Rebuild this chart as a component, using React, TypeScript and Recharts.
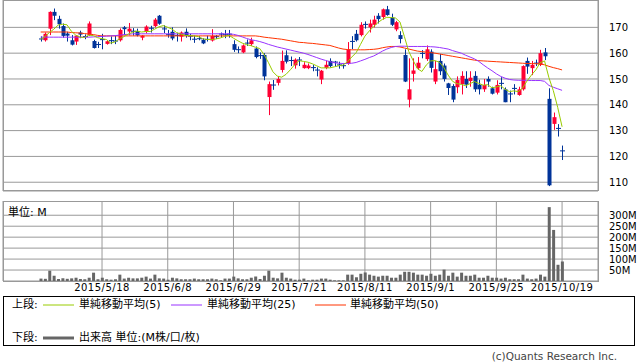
import { ComposedChart, BarChart, Bar, Line, XAxis, YAxis, CartesianGrid } from 'recharts';

// trading-day index of the first candle (0 = 2015/5/18)
const FIRST = -14;

const tickIdx = [0, 15, 30, 45, 60, 75, 90, 105];
const tickLabels = ['2015/5/18', '2015/6/8', '2015/6/29', '2015/7/21', '2015/8/11', '2015/9/1', '2015/9/25', '2015/10/19'];
const priceTicks = [110, 120, 130, 140, 150, 160, 170];
const volTicks = [50, 100, 150, 200, 250, 300];

const opens = [
  165.7, 165, 169.5, 176, 173.3, 170.5, 167.6, 165, 164.5, 168,
  166.6, 167, 164.7, 163.5, 165.5, 163.6, 165, 164.9, 165, 170,
  168.4, 168.7, 168.5, 166, 168.3, 169.8, 170.5, 174.5, 169.5, 167.3,
  168.3, 167, 166.4, 168.3, 166.7, 165.5, 165.7, 165.2, 165.5, 164.9,
  166.5, 167.5, 167.3, 167.5, 163.5, 161.5, 160.3, 164, 163.5, 161.8,
  159.2, 159.3, 143, 147.8, 148.5, 153.5, 159.2, 157.3, 155.3, 157.5,
  154.2, 154.2, 154.5, 153.6, 149.8, 154.3, 157, 156.7, 155.6, 155.3,
  156, 164.7, 167.5, 167, 171.3, 170, 171, 174.5, 174, 177,
  173.8, 169.2, 167, 159.3, 142, 152, 154.2, 160, 157.7, 160.6,
  149, 157, 155.2, 148.3, 147.3, 146.8, 148, 150, 149.2, 151.2,
  147.8, 146, 150, 146.4, 144.7, 148.4, 146, 144.3, 146.5, 143.8,
  146, 157, 154.2, 156.3, 155.5, 160.3, 142.3, 132.6, 131, 122.3,
];
const highs = [
  166.5, 168, 176.2, 177.3, 174.5, 171.5, 168.3, 167, 167, 168.7,
  167.3, 172.3, 165.2, 164.4, 167.5, 165, 166.5, 166.7, 169.6, 170.5,
  171.7, 169.7, 169.5, 167, 170.8, 170.6, 173.6, 174.8, 170.8, 169,
  170, 167.9, 168.4, 169.6, 167.5, 166.8, 166.6, 165.8, 166.8, 169.3,
  167, 168, 169, 169, 165, 162.6, 163.4, 165.3, 166, 162.6,
  160.3, 160, 149, 149.6, 151, 161, 161.1, 158.7, 158, 158.5,
  156.5, 156, 155.4, 154.5, 153.5, 157, 158, 157, 156.7, 156.2,
  164.3, 166.6, 169, 172, 172.3, 173, 174.5, 175.5, 177.3, 178.3,
  175.3, 172.5, 168.5, 161.5, 158, 158, 158.5, 161.2, 163, 161.5,
  157, 159.7, 156, 148.5, 148, 151, 153, 153, 153, 153,
  149.7, 150, 151, 147, 149.5, 150.7, 146.7, 145.5, 148, 147,
  155.3, 158.3, 157, 157.5, 161.3, 162, 146.4, 137, 132.5, 124.2,
];
const lows = [
  164.5, 164.5, 167, 172.8, 169.5, 166, 164.5, 163, 163.2, 165.8,
  165.4, 166.7, 161.8, 162, 161.5, 163.3, 163.5, 163.5, 164.5, 167,
  167, 166.8, 166.5, 165, 167.7, 168, 170, 171, 167.8, 166,
  165, 164.5, 164.5, 166, 165, 164, 165, 163.5, 164.5, 164.5,
  165.5, 166, 165.8, 166, 160.5, 160, 160, 162.8, 162.8, 158,
  157.8, 149.5, 136, 145.8, 147.5, 152.5, 156, 155, 154, 155,
  154, 153.8, 153, 151, 148, 153.8, 154.5, 155, 154, 154,
  155.5, 161.6, 164.5, 166.5, 169.5, 168, 170, 171.5, 173, 174.5,
  170.5, 168.5, 163.8, 148.8, 139, 149, 153.5, 158, 157, 152.5,
  148, 151.5, 149, 143.8, 141, 144.5, 144, 146.5, 147, 145,
  144, 145, 147, 144, 144, 146, 141, 141, 144, 143.5,
  145.5, 152, 151.5, 155, 155, 157.3, 108.5, 130.3, 127.7, 118.6,
];
const closes = [
  165.3, 167.5, 176, 174.5, 171.2, 166.7, 166.8, 163.3, 166.8, 167.2,
  166.3, 171.5, 162, 163.2, 165, 164.6, 164.7, 164.5, 169, 169.3,
  169.5, 168.3, 166.9, 166.8, 170.3, 169.5, 173, 171.4, 169.3, 167,
  165.7, 166.8, 168, 166.8, 166.5, 165.3, 165.5, 163.8, 165.2, 166.7,
  166.3, 167.3, 167, 167.2, 161.3, 161.2, 163, 163.8, 165, 158.5,
  158.9, 151, 148, 147.5, 150, 157, 156.7, 157, 157.5, 157.2,
  155.5, 155.2, 154.3, 153.3, 153.2, 155.5, 155, 156.4, 155.3, 155,
  161.5, 164.4, 165, 171, 171, 171.5, 173, 173.2, 177, 174.8,
  171, 172, 165.5, 149, 146, 153.3, 156.3, 159.8, 161.5, 154.3,
  153.8, 153, 150, 146.5, 142, 149.6, 151.2, 147.8, 150.5, 146,
  146, 147.7, 149, 144.3, 147.7, 148.2, 141, 144.1, 146.2, 146,
  155, 154.8, 155.5, 156, 160, 158.8, 108.8, 135.2, 130.7, 122,
];
const ma5 = [
  165.3, 166.5, 168, 169.3, 170.9, 171.2, 171.0, 168.5, 167.0, 166.2,
  166.1, 167.0, 166.8, 166.0, 165.6, 165.3, 163.9, 164.4, 165.6, 166.4,
  167.4, 168.1, 168.6, 168.2, 168.4, 168.4, 169.3, 170.2, 170.7, 170.0,
  169.3, 168.0, 167.4, 166.9, 166.8, 166.7, 166.4, 165.6, 165.3, 165.3,
  165.5, 165.9, 166.5, 166.9, 165.8, 164.8, 163.9, 163.3, 162.9, 162.3,
  161.8, 159.4, 156.3, 152.8, 151.1, 150.7, 151.8, 153.6, 155.6, 157.1,
  156.8, 156.5, 155.9, 155.1, 154.3, 154.3, 154.3, 154.7, 155.1, 155.4,
  156.6, 158.5, 160.2, 163.4, 166.6, 168.6, 170.3, 171.9, 173.1, 173.9,
  173.8, 173.6, 172.1, 166.5, 160.7, 157.2, 154.0, 152.9, 155.4, 157.0,
  157.1, 156.5, 154.5, 151.5, 149.1, 148.2, 147.9, 147.4, 148.2, 149.0,
  148.3, 147.6, 147.8, 146.6, 146.9, 147.4, 146.0, 145.1, 145.4, 145.1,
  146.5, 149.2, 151.5, 153.5, 156.3, 157.0, 150.5, 145.5, 139.0, 131.5,
];
const ma25 = [
  166.2, 166.2, 166.2, 166.2, 166.2, 166.2, 166.2, 166.2, 166.2, 166.2,
  166.2, 166.2, 166.3, 166.4, 166.5, 166.6, 166.7, 166.8, 167.0, 167.2,
  167.3, 167.5, 167.5, 167.5, 167.5, 167.5, 167.5, 167.5, 167.5, 167.5,
  167.5, 167.5, 167.5, 167.5, 167.5, 167.5, 167.5, 167.5, 167.5, 167.5,
  167.5, 167.5, 167.5, 167.5, 167.3, 166.9, 166.3, 165.7, 165.2, 164.9,
  164.5, 164.0, 163.4, 162.9, 162.4, 162.0, 161.6, 161.2, 160.8, 160.4,
  160.0, 159.5, 158.9, 158.3, 157.7, 157.2, 156.7, 156.3, 156.1, 156.0,
  156.0, 156.1, 156.4, 157.0, 157.6, 158.3, 158.9, 159.8, 160.8, 161.6,
  162.2, 162.6, 162.7, 162.7, 162.6, 162.6, 162.6, 162.6, 162.6, 162.5,
  162.4, 162.2, 161.9, 161.6, 161.0, 160.5, 160.0, 159.2, 158.5, 157.8,
  156.8, 155.5, 154.3, 153.2, 152.0, 151.0, 150.3, 149.8, 149.6, 149.5,
  149.5, 149.5, 149.4, 149.4, 149.4, 149.1, 147.5, 146.8, 146.2, 145.6,
];
const ma50 = [
  168.2, 168.2, 168.2, 168.2, 168.2, 168.2, 168.2, 168.0, 167.9, 167.8,
  167.6, 167.4, 167.2, 166.9, 166.7, 166.7, 166.7, 166.7, 166.7, 166.7,
  166.7, 166.7, 166.7, 166.7, 166.7, 166.7, 166.7, 166.7, 166.7, 166.7,
  166.7, 166.7, 166.7, 166.7, 166.7, 166.7, 166.7, 166.7, 166.7, 166.7,
  166.7, 166.7, 166.7, 166.7, 166.7, 166.7, 166.7, 166.7, 166.7, 166.7,
  166.5, 166.2, 166.0, 165.8, 165.6, 165.4, 165.1, 164.8, 164.5, 164.2,
  164.1, 163.9, 163.8, 163.6, 163.4, 163.2, 163.0, 162.5, 162.0, 161.6,
  161.4, 161.3, 161.3, 161.3, 161.3, 161.4, 161.5, 161.7, 162.1, 162.4,
  162.6, 162.6, 162.4, 162.0, 161.6, 161.2, 160.8, 160.6, 160.4, 160.2,
  160.0, 159.7, 159.4, 159.1, 158.8, 158.5, 158.2, 157.9, 157.6, 157.3,
  157.1, 157.0, 156.9, 156.8, 156.7, 156.6, 156.5, 156.4, 156.3, 156.2,
  156.1, 156.0, 156.0, 155.9, 155.8, 155.5, 154.9, 154.4, 154.0, 153.5,
];
// volume in millions
const volumes = [
  11, 10, 47, 24, 9, 12, 10, 12, 15, 9,
  8, 15, 38, 8, 15, 8, 6, 8, 29, 11,
  15, 12, 12, 15, 20, 11, 29, 12, 11, 6,
  15, 12, 8, 8, 8, 11, 8, 8, 8, 11,
  8, 3, 11, 11, 20, 12, 8, 8, 15, 20,
  9, 24, 47, 15, 12, 38, 15, 11, 6, 6,
  11, 3, 6, 6, 11, 11, 6, 3, 3, 3,
  29, 29, 17, 33, 39, 29, 24, 20, 24, 24,
  15, 15, 29, 42, 42, 38, 29, 29, 24, 33,
  24, 29, 52, 24, 38, 20, 38, 24, 24, 29,
  15, 15, 24, 15, 15, 11, 15, 8, 8, 8,
  29, 11, 8, 11, 29, 20, 337, 233, 74, 89,
];

const UP = '#ff0033';
const DOWN = '#003399';
const GRID = '#999999';
const FONT = "'DejaVu Sans', 'Noto Sans CJK JP', sans-serif";
const X_DOMAIN = [-22.6, 113.2];

const rows = opens.map((o, k) => ({
  i: FIRST + k,
  o,
  h: highs[k],
  l: lows[k],
  c: closes[k],
  range: [lows[k], highs[k]],
  vol: volumes[k],
  ma5: ma5[k],
  ma25: ma25[k],
  ma50: ma50[k],
}));

const dateLabel = (v: number) => {
  const n = tickIdx.indexOf(v);
  return n >= 0 ? tickLabels[n] : '';
};

const Candle = (props: any) => {
  const { x, y, width, height, payload } = props;
  const { o, h, l, c } = payload;
  const top0 = Math.min(y, y + height);
  const span = Math.abs(height);
  const k = h === l ? 0 : span / (h - l);
  const yOf = (v: number) => top0 + (h - v) * k;
  const color = c >= o ? UP : DOWN;
  const cx = Math.round(x + width / 2) + 0.5;
  const bTop = yOf(Math.max(o, c));
  const bBot = yOf(Math.min(o, c));
  return (
    <g>
      <line x1={cx} x2={cx} y1={top0} y2={top0 + span} stroke={color} strokeWidth={1} />
      {bBot - bTop < 1.5 ? (
        <line x1={cx - 2.5} x2={cx + 2.5} y1={(bTop + bBot) / 2} y2={(bTop + bBot) / 2} stroke={color} strokeWidth={1} />
      ) : (
        <rect x={cx - 2} y={bTop} width={4} height={bBot - bTop} fill={color} />
      )}
    </g>
  );
};

const legendLine = (color: string, w: number) => (
  <svg width={31} height={6} style={{ display: 'block' }}>
    <line x1={0} x2={31} y1={3} y2={3} stroke={color} strokeWidth={w} />
  </svg>
);

const abs = (left: number, top: number, extra: any = {}) => ({ position: 'absolute' as const, left, top, ...extra });

export default function App() {
  return (
    <div style={{ position: 'absolute', left: 0, top: 0, width: 638, height: 362, background: '#fff', fontFamily: FONT, color: '#000' }}>
      {/* price panel */}
      <div style={abs(0, 0)}>
        <ComposedChart width={638} height={192} data={rows} margin={{ top: 0, right: 0, bottom: 0, left: 3 }}>
          <CartesianGrid stroke={GRID} strokeWidth={1} />
          <XAxis
            dataKey="i"
            type="number"
            domain={X_DOMAIN}
            ticks={tickIdx}
            allowDataOverflow
            height={1}
            tick={false}
            axisLine={false}
            tickLine={false}
          />
          <YAxis
            orientation="right"
            width={40}
            domain={[106.6, 180.6]}
            ticks={priceTicks}
            interval={0}
            allowDataOverflow
            axisLine={false}
            tickLine={false}
            tickSize={0}
            tickMargin={11}
            tick={{ fill: '#000', fontSize: 10, fontFamily: FONT, textAnchor: 'start' }}
          />
          <Bar dataKey="range" barSize={3} shape={<Candle />} isAnimationActive={false} />
          <Line type="linear" dataKey="ma50" stroke="#ff3300" strokeWidth={1} dot={false} isAnimationActive={false} />
          <Line type="linear" dataKey="ma25" stroke="#9933ff" strokeWidth={1} dot={false} isAnimationActive={false} />
          <Line type="linear" dataKey="ma5" stroke="#99cc00" strokeWidth={1} dot={false} isAnimationActive={false} />
        </ComposedChart>
      </div>
      <div style={abs(3, 0, { width: 596, height: 191, border: `1px solid ${GRID}`, boxSizing: 'border-box', pointerEvents: 'none' })} />

      {/* volume panel */}
      <div style={abs(0, 201)}>
        <BarChart width={638} height={94} data={rows} margin={{ top: 0, right: 0, bottom: 0, left: 3 }}>
          <CartesianGrid stroke={GRID} strokeWidth={1} />
          <XAxis
            dataKey="i"
            type="number"
            domain={X_DOMAIN}
            ticks={tickIdx}
            interval={0}
            allowDataOverflow
            height={14}
            axisLine={false}
            tickLine={false}
            tickSize={0}
            tickMargin={3}
            tickFormatter={dateLabel}
            tick={{ fill: '#000', fontSize: 10, fontFamily: FONT, letterSpacing: 0.5 }}
          />
          <YAxis
            orientation="right"
            width={40}
            domain={[0, 365]}
            ticks={volTicks}
            interval={0}
            allowDataOverflow
            axisLine={false}
            tickLine={false}
            tickSize={0}
            tickMargin={11}
            tickFormatter={(v: number) => `${v}M`}
            tick={{ fill: '#000', fontSize: 10, fontFamily: FONT, textAnchor: 'start' }}
          />
          <Bar dataKey="vol" fill="#666666" barSize={3} isAnimationActive={false} />
        </BarChart>
      </div>
      <div style={abs(3, 201, { width: 596, height: 81, border: `1px solid ${GRID}`, boxSizing: 'border-box', pointerEvents: 'none' })} />
      <div style={abs(8, 203, { fontSize: 11 })}>単位: M</div>

      {/* legend box */}
      <div style={abs(3, 296, { width: 632, height: 50, border: '1px solid #000', boxSizing: 'border-box', fontSize: 11 })}>
        <div style={abs(8, 0, { lineHeight: '15px' })}>上段:</div>
        <div style={abs(39, 5)}>{legendLine('#99cc00', 1)}</div>
        <div style={abs(75, 0, { lineHeight: '15px' })}>単純移動平均(5)</div>
        <div style={abs(167, 5)}>{legendLine('#9933ff', 1)}</div>
        <div style={abs(203, 0, { lineHeight: '15px' })}>単純移動平均(25)</div>
        <div style={abs(311, 5)}>{legendLine('#ff3300', 1)}</div>
        <div style={abs(346, 0, { lineHeight: '15px' })}>単純移動平均(50)</div>

        <div style={abs(8, 33, { lineHeight: '15px' })}>下段:</div>
        <div style={abs(39, 38)}>{legendLine('#666666', 3)}</div>
        <div style={abs(75, 33, { lineHeight: '15px' })}>出来高 単位:(M株/口/枚)</div>
      </div>

      <div style={abs(0, 349, { width: 617, textAlign: 'right', fontSize: 10.5, color: '#444', lineHeight: '14px' })}>
        (c)Quants Research Inc.
      </div>
    </div>
  );
}
